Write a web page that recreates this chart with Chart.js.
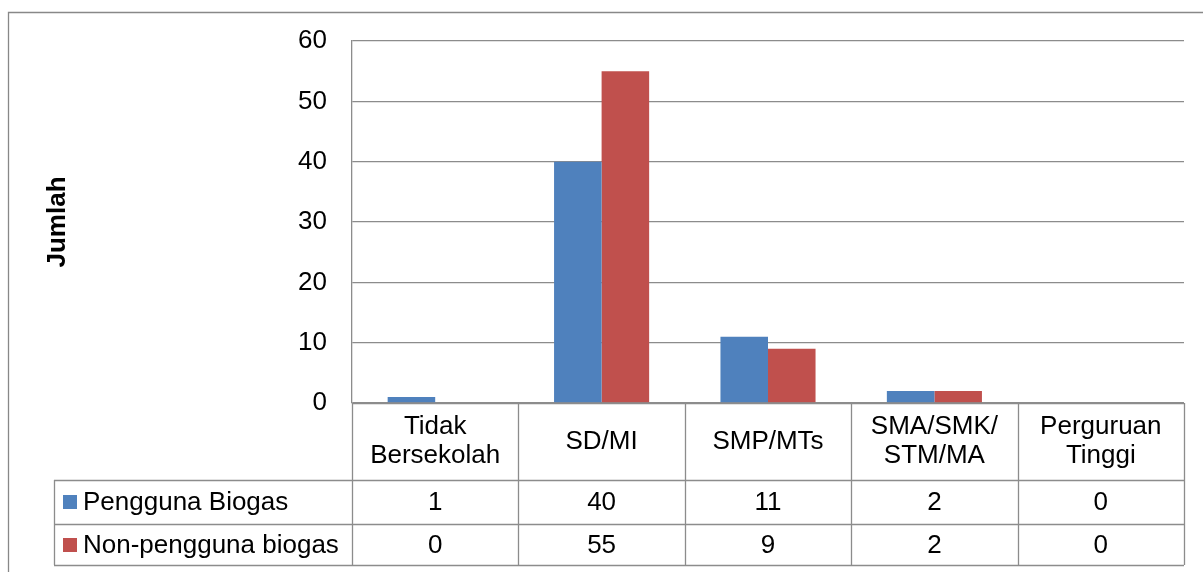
<!DOCTYPE html>
<html>
<head>
<meta charset="utf-8">
<script src="https://cdn.jsdelivr.net/npm/chart.js@4/dist/chart.umd.min.js"></script>
<style>
  html, body { margin: 0; padding: 0; background: #fff; }
  #wrap { width: 1203px; height: 572px; }
</style>
</head>
<body>
<div id="wrap"><canvas id="eduChart" width="1203" height="572"></canvas></div>
<script>
// data
const categories = [
  ['Tidak', 'Bersekolah'],
  ['SD/MI'],
  ['SMP/MTs'],
  ['SMA/SMK/', 'STM/MA'],
  ['Perguruan', 'Tinggi'],
];
const seriesNames  = ['Pengguna Biogas', 'Non-pengguna biogas'];
const penggunaVals = [1, 40, 11, 2, 0];
const nonVals      = [0, 55, 9, 2, 0];
const yTicks       = [0, 10, 20, 30, 40, 50, 60];

const BLUE = '#4f81bd';
const RED  = '#c0504d';
const LINE = '#8c8c8c';
const FONT = '"Liberation Sans", Arial, sans-serif';

Chart.defaults.font.family = FONT;
Chart.defaults.color = '#000';

// chart frame + data table drawn under the plot
const frameAndTable = {
  id: 'frameAndTable',
  beforeDraw(chart) {
    const ctx = chart.ctx;
    ctx.save();
    ctx.fillStyle = '#fff';
    ctx.fillRect(0, 0, chart.width, chart.height);
    ctx.strokeStyle = '#888';
    ctx.lineWidth = 1.3;
    ctx.beginPath();
    ctx.moveTo(8.5, chart.height);
    ctx.lineTo(8.5, 12.5);
    ctx.lineTo(chart.width, 12.5);
    ctx.stroke();
    ctx.restore();
  },
  afterDraw(chart) {
    const ctx = chart.ctx;
    const area = chart.chartArea;
    const xs = chart.scales.x;
    const step = xs.width / categories.length;

    const headTop = area.bottom;
    const row1Top = headTop + 77;
    const row2Top = row1Top + 44;
    const tableBottom = row2Top + 41;
    const legendLeft = 54;

    ctx.save();
    ctx.strokeStyle = LINE;
    ctx.lineWidth = 1.3;
    ctx.beginPath();
    // horizontal rules
    [row1Top, row2Top, tableBottom].forEach(y => {
      ctx.moveTo(legendLeft, y + 0.5);
      ctx.lineTo(area.right, y + 0.5);
    });
    ctx.moveTo(area.left, headTop + 0.5);
    ctx.lineTo(area.right, headTop + 0.5);
    // vertical rules
    for (let i = 0; i <= categories.length; i++) {
      const x = Math.round(area.left + step * i) + 0.5;
      ctx.moveTo(x, headTop);
      ctx.lineTo(x, tableBottom);
    }
    ctx.moveTo(legendLeft + 0.5, row1Top);
    ctx.lineTo(legendLeft + 0.5, tableBottom);
    ctx.stroke();

    ctx.fillStyle = '#000';
    ctx.font = '26px ' + FONT;
    ctx.textAlign = 'center';
    ctx.textBaseline = 'middle';

    // header labels
    const headMid = (headTop + row1Top) / 2;
    categories.forEach((lines, i) => {
      const cx = xs.getPixelForValue(i);
      const lh = 29;
      const y0 = headMid - (lines.length - 1) * lh / 2;
      lines.forEach((t, k) => ctx.fillText(t, cx, y0 + k * lh));
    });

    // value rows
    const rows = [
      { top: row1Top, bottom: row2Top },
      { top: row2Top, bottom: tableBottom },
    ];
    chart.data.datasets.forEach((ds, r) => {
      const mid = (rows[r].top + rows[r].bottom) / 2;
      ctx.textAlign = 'center';
      ctx.fillStyle = '#000';
      ds.data.forEach((v, i) => {
        ctx.fillText(String(v), xs.getPixelForValue(i), mid + 1);
      });
      // legend key
      ctx.fillStyle = ds.backgroundColor;
      ctx.fillRect(63, Math.round(mid - 7), 14, 14);
      ctx.fillStyle = '#000';
      ctx.textAlign = 'left';
      ctx.fillText(ds.label, 83, mid + 1);
    });
    ctx.restore();
  }
};

new Chart(document.getElementById('eduChart'), {
  type: 'bar',
  data: {
    labels: categories,
    datasets: [
      {
        label: seriesNames[0],
        data: penggunaVals,
        backgroundColor: BLUE,
        categoryPercentage: 2 / 3.5,
        barPercentage: 1,
      },
      {
        label: seriesNames[1],
        data: nonVals,
        backgroundColor: RED,
        categoryPercentage: 2 / 3.5,
        barPercentage: 1,
      }
    ]
  },
  options: {
    responsive: false,
    animation: false,
    layout: {
      padding: { left: 0, top: 41, right: 19, bottom: 169 }
    },
    plugins: {
      legend:  { display: false },
      tooltip: { enabled: false },
    },
    scales: {
      x: {
        display: false,
      },
      y: {
        min: 0,
        max: 60,
        afterFit: (scale) => { scale.width = 352; },
        afterBuildTicks: (scale) => {
          scale.ticks = yTicks.map(v => ({ value: v }));
        },
        grid: {
          color: LINE,
          lineWidth: 1.3,
          drawTicks: false,
        },
        border: { color: LINE, width: 1.3 },
        ticks: {
          padding: 25,
          color: '#000',
          font: { size: 26 },
        },
        title: {
          display: true,
          text: 'Jumlah',
          color: '#000',
          font: { size: 26, weight: 'bold' },
          padding: { top: 42, bottom: 0 },
        },
      }
    }
  },
  plugins: [frameAndTable]
});
</script>
</body>
</html>
